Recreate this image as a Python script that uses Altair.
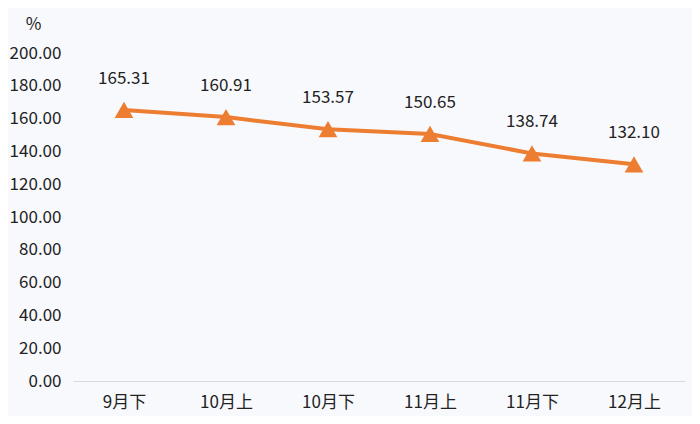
import altair as alt
import pandas as pd

categories = ["9月下", "10月上", "10月下", "11月上", "11月下", "12月上"]
values = [165.31, 160.91, 153.57, 150.65, 138.74, 132.10]

df = pd.DataFrame({"period": categories, "value": values})
df["label"] = [f"{v:.2f}" for v in values]

FONT = "Noto Sans CJK SC"
ORANGE = "#ED7D31"

x = alt.X("period:N", sort=categories, title=None,
          scale=alt.Scale(paddingInner=0, paddingOuter=0.5),
          axis=alt.Axis(labelAngle=0, ticks=False, domainColor="#d9d9d9",
                        domainWidth=1, labelPadding=13, labelFontSize=17,
                        labelFont=FONT, labelColor="#222222"))
y = alt.Y("value:Q", title="%",
          scale=alt.Scale(domain=[0, 200], nice=False),
          axis=alt.Axis(values=list(range(0, 201, 20)), format=".2f", grid=False,
                        domain=False, ticks=False, labelPadding=12,
                        labelFontSize=17, labelFont=FONT, labelColor="#222222",
                        titleAngle=0, titleX=-40, titleY=-29, titleAlign="center",
                        titleBaseline="middle", titleFontSize=17, titleFont=FONT,
                        titleFontWeight="normal", titleColor="#222222"))

base = alt.Chart(df).encode(x=x, y=y)

line = base.mark_line(color=ORANGE, strokeWidth=4)
points = base.mark_point(shape="triangle-up", filled=True, color=ORANGE,
                         size=350, opacity=1)
labels = base.mark_text(dy=-31, fontSize=17, font=FONT, color="#222222").encode(
    text="label:N")

chart = (line + points + labels).properties(
    width=612, height=328,
    background="#f8f9fd",
    padding={"left": 65, "top": 45, "right": 7, "bottom": 35},
    autosize=alt.AutoSizeParams(type="none"),
).configure_view(stroke=None)

chart.save("out.html", embed_options={"renderer": "svg", "actions": False})
